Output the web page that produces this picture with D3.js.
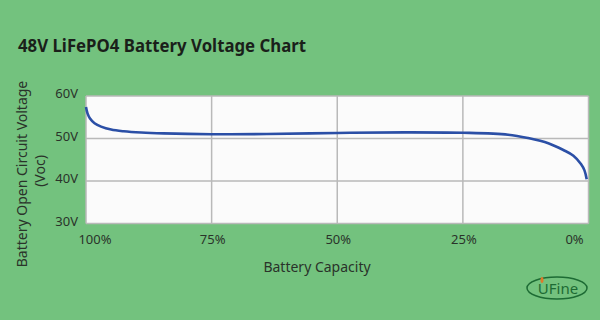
<!DOCTYPE html>
<html>
<head>
<meta charset="utf-8">
<script src="https://cdn.jsdelivr.net/npm/d3@7"></script>
<style>
  body { margin: 0; background: #73c27e; }
  svg { display: block; font-family: "Noto Sans", sans-serif; }
</style>
</head>
<body>
<svg id="chart" width="600" height="320"></svg>
<script>
// capacity (%) and open circuit voltage (V)
const capacity = [100, 99.7, 99.2, 98.3, 97, 95, 92.5, 89, 84.6, 75, 64, 50, 36.6, 25, 16, 12, 8, 5, 3, 1.5, 0.8, 0.36];
const voltage  = [57.4, 55.9, 54.7, 53.6, 52.8, 52.1, 51.7, 51.4, 51.2, 51.0, 51.05, 51.3, 51.45, 51.35, 50.9, 50.1, 48.9, 47.3, 45.95, 44.0, 42.5, 40.4];
const xTicks = [100, 75, 50, 25, 0];
const yTicks = [60, 50, 40, 30];

const svg = d3.select("#chart");

const x = d3.scaleLinear().domain([100, 0]).range([86, 588.5]);
const y = d3.scaleLinear().domain([30, 60]).range([223.5, 96]);

// title
svg.append("text")
    .attr("x", 18).attr("y", 52)
    .attr("font-size", 17.5).attr("font-weight", "bold")
    .attr("fill", "#1a1f1a")
    .attr("textLength", 288).attr("lengthAdjust", "spacingAndGlyphs")
    .text("48V LiFePO4 Battery Voltage Chart");

// plot background
svg.append("rect")
    .attr("x", x(100)).attr("y", y(60))
    .attr("width", x(0) - x(100)).attr("height", y(30) - y(60))
    .attr("fill", "#fbfbfb");

// grid
svg.append("g").selectAll("line")
    .data(yTicks).join("line")
    .attr("x1", x(100)).attr("x2", x(0))
    .attr("y1", d => y(d)).attr("y2", d => y(d))
    .attr("stroke", "#b9b9b9").attr("stroke-width", 1.5);

svg.append("g").selectAll("line")
    .data(xTicks).join("line")
    .attr("x1", d => x(d)).attr("x2", d => x(d))
    .attr("y1", y(60)).attr("y2", y(30))
    .attr("stroke", "#b9b9b9").attr("stroke-width", 1.5);

// tick labels
svg.append("g").selectAll("text")
    .data(yTicks).join("text")
    .attr("x", 78).attr("y", d => y(d) + 2)
    .attr("text-anchor", "end")
    .attr("font-size", 13).attr("fill", "#2a332a")
    .text(d => d + "V");

let xOffset = {100: 9, 0: -14};
svg.append("g").selectAll("text")
    .data(xTicks).join("text")
    .attr("x", d => x(d) + (xOffset[d] || 1))
    .attr("y", 244)
    .attr("text-anchor", "middle")
    .attr("font-size", 13).attr("fill", "#2a332a")
    .text(d => d + "%");

// axis titles
svg.append("text")
    .attr("x", 317).attr("y", 272)
    .attr("text-anchor", "middle")
    .attr("font-size", 14).attr("fill", "#2a332a")
    .text("Battery Capacity");

svg.append("text")
    .attr("transform", "translate(27,174) rotate(-90)")
    .attr("text-anchor", "middle")
    .attr("font-size", 14).attr("fill", "#2a332a")
    .text("Battery Open Circuit Voltage");

svg.append("text")
    .attr("transform", "translate(45,171) rotate(-90)")
    .attr("text-anchor", "middle")
    .attr("font-size", 14).attr("fill", "#2a332a")
    .text("(Voc)");

// voltage curve
let points = capacity.map((c, i) => [c, voltage[i]]);
let line = d3.line()
    .x(d => x(d[0]))
    .y(d => y(d[1]))
    .curve(d3.curveCatmullRom.alpha(0.5));

svg.append("path")
    .datum(points)
    .attr("d", line)
    .attr("fill", "none")
    .attr("stroke", "#2b4fa6")
    .attr("stroke-width", 2.6);

// logo
let logo = svg.append("g");
logo.append("ellipse")
    .attr("cx", 557).attr("cy", 288)
    .attr("rx", 30).attr("ry", 11)
    .attr("fill", "none")
    .attr("stroke", "#1d6b34").attr("stroke-width", 1.5);
logo.append("text")
    .attr("x", 558).attr("y", 294)
    .attr("text-anchor", "middle")
    .attr("font-size", 15)
    .attr("fill", "#1d6b34")
    .text("UFine");
logo.append("ellipse")
    .attr("cx", 542).attr("cy", 280)
    .attr("rx", 1.5).attr("ry", 3)
    .attr("fill", "#e0782a");
</script>
</body>
</html>
